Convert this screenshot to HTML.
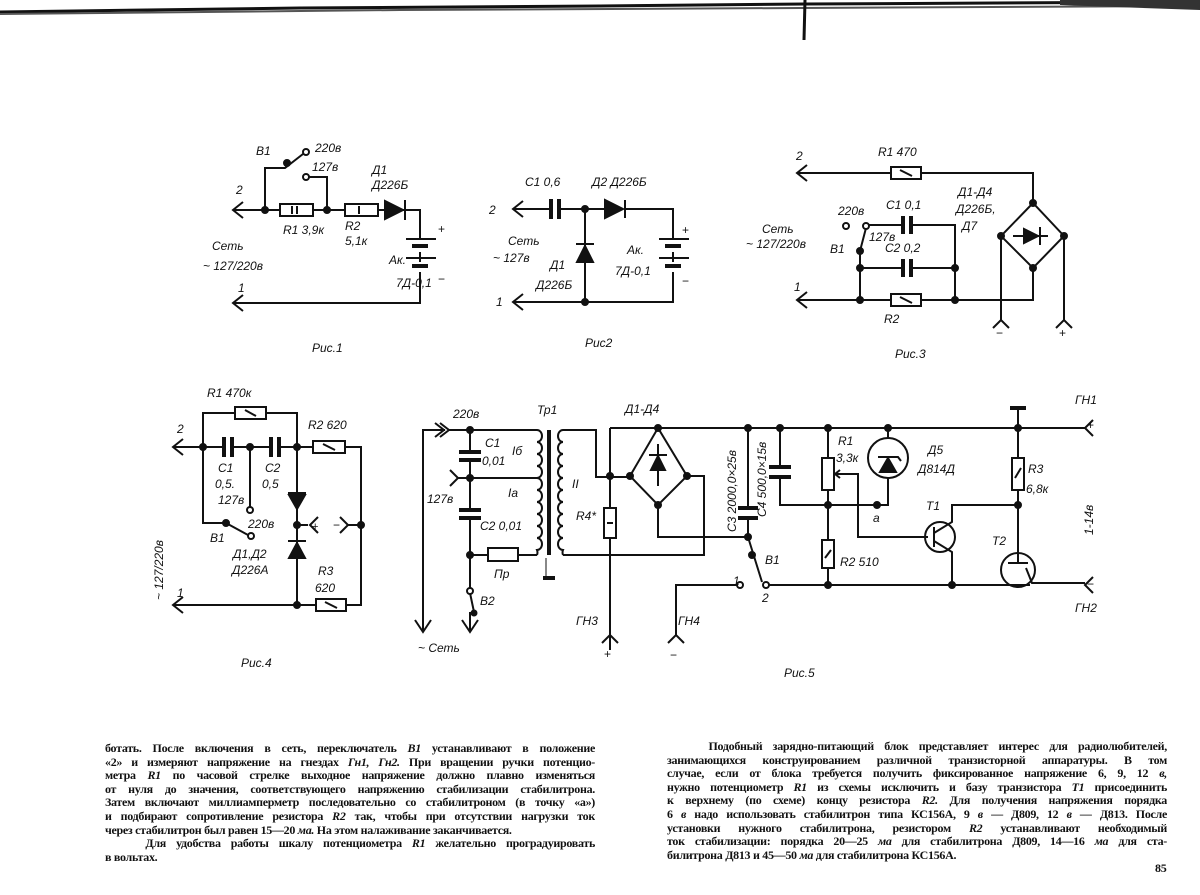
<!DOCTYPE html>
<html><head><meta charset="utf-8"><style>
body{margin:0;width:1200px;height:895px;background:#fff;overflow:hidden;position:relative}
svg{position:absolute;left:0;top:0}
.t{font-family:"Liberation Sans","DejaVu Sans",sans-serif;font-style:italic;font-size:12px;fill:#111}
.col{position:absolute;font-family:"Liberation Serif","DejaVu Serif",serif;font-size:12px;line-height:13.6px;color:#111;font-weight:bold;letter-spacing:-0.3px}
.col div{text-align:justify;text-align-last:justify;white-space:nowrap;overflow:hidden}
.col div.l{text-align-last:left}
</style></head><body>
<svg width="1200" height="895" viewBox="0 0 1200 895">
<g stroke="#111" stroke-width="2" fill="none">
<path d="M0,12 L300,8 L600,6 L805,4 L1200,2" stroke-width="3"/>
<path d="M0,14 L400,10 L800,8 L1200,6" stroke="#555" stroke-width="2"/>
<path d="M1060,0 L1200,0 L1200,10 L1060,5Z" fill="#333" stroke="none"/>
<path d="M805,0 L804,40" stroke-width="3"/>

<!-- FIG 1 -->
<path d="M233,210 H280 M313,210 H345 M378,210 H420 V238 M420,252 V262 M420,272 V303 H233"/>
<path d="M243,202 L233,210 L243,218 M243,295 L233,303 L243,311"/>
<rect x="280" y="204" width="33" height="12"/><rect x="345" y="204" width="33" height="12"/>
<path d="M292,206 V214 M297,206 V214 M359,206 V214"/>
<path d="M385,201 L385,219 L403,210Z" fill="#111"/><path d="M405,200 V220"/>
<path d="M406,239 H436 M406,258 H436" /><path d="M412,246 H428 M412,266 H428" stroke-width="4"/>
<path d="M265,210 V168 H285 L303,154 M309,177 H327 V210"/>
<circle cx="306" cy="152" r="3" fill="#fff"/><circle cx="306" cy="177" r="3" fill="#fff"/>
<g fill="#111"><circle cx="265" cy="210" r="3"/><circle cx="327" cy="210" r="3"/><circle cx="287" cy="163" r="3"/></g>

<!-- FIG 2 -->
<path d="M513,209 H551 M559,209 H605 M625,209 H673 V238 M673,252 V262 M673,272 V302 H513 M585,209 V302"/>
<path d="M523,201 L513,209 L523,217 M523,294 L513,302 L523,310"/>
<path d="M551,199 V219 M559,199 V219" stroke-width="4"/>
<path d="M605,200 L605,218 L623,209Z" fill="#111"/><path d="M625,200 V218"/>
<path d="M577,262 L593,262 L585,246Z" fill="#111"/><path d="M576,244 H594"/>
<path d="M659,239 H689 M659,258 H689"/><path d="M665,246 H681 M665,266 H681" stroke-width="4"/>
<g fill="#111"><circle cx="585" cy="209" r="3"/><circle cx="585" cy="302" r="3"/></g>

<!-- FIG 3 -->
<path d="M797,173 H891 M921,173 H1033 V203"/>
<path d="M807,165 L797,173 L807,181 M807,292 L797,300 L807,308"/>
<rect x="891" y="167" width="30" height="12"/><path d="M900,170 L912,176"/>
<path d="M1033,203 L1001,236 L1033,268 L1064,236Z"/>
<path d="M1024,229 L1024,243 L1038,236Z" fill="#111"/><path d="M1040,227 V245 M1013,236 H1048"/>
<path d="M1033,268 V300 H797 M1001,236 V320 M1064,236 V320"/>
<path d="M993,328 L1001,320 L1009,328 M1056,328 L1064,320 L1072,328"/>
<rect x="891" y="294" width="30" height="12" fill="#fff"/><path d="M900,297 L912,303"/>
<path d="M869,225 H903 M911,225 H955 V300 M860,268 H903 M911,268 H955 M860,251 V300 M866,228 L860,251"/>
<path d="M903,216 V234 M911,216 V234 M903,259 V277 M911,259 V277" stroke-width="4"/>
<circle cx="866" cy="226" r="3" fill="#fff"/><circle cx="846" cy="226" r="3" fill="#fff"/>
<g fill="#111"><circle cx="1033" cy="203" r="3"/><circle cx="1001" cy="236" r="3"/><circle cx="1064" cy="236" r="3"/><circle cx="1033" cy="268" r="3"/><circle cx="860" cy="300" r="3"/><circle cx="955" cy="300" r="3"/><circle cx="860" cy="268" r="3"/><circle cx="955" cy="268" r="3"/><circle cx="860" cy="251" r="3"/></g>

<!-- FIG 4 -->
<path d="M173,447 H224 M232,447 H271 M279,447 H313 M345,447 H361 V605 H346 M316,605 H173"/>
<path d="M183,439 L173,447 L183,455 M183,597 L173,605 L183,613"/>
<path d="M224,437 V457 M232,437 V457 M271,437 V457 M279,437 V457" stroke-width="4"/>
<path d="M203,447 V413 H235 M266,413 H297 V605"/>
<rect x="235" y="407" width="31" height="12"/><path d="M245,410 L256,416"/>
<rect x="313" y="441" width="32" height="12"/><path d="M323,444 L335,450"/>
<rect x="316" y="599" width="30" height="12"/><path d="M325,602 L337,608"/>
<path d="M289,495 H305 L297,509Z" fill="#111"/><path d="M288,493 H306"/>
<path d="M289,558 H305 L297,543Z" fill="#111"/><path d="M288,541 H306"/>
<path d="M297,525 H308 M318,517 L310,525 L318,533 M361,525 H348 M340,517 L348,525 L340,533"/>
<path d="M203,447 V523 H226 L248,535 M250,447 V507"/>
<circle cx="250" cy="510" r="3" fill="#fff"/><circle cx="251" cy="536" r="3" fill="#fff"/>
<g fill="#111"><circle cx="203" cy="447" r="3"/><circle cx="250" cy="447" r="3"/><circle cx="297" cy="447" r="3"/><circle cx="297" cy="525" r="3"/><circle cx="361" cy="525" r="3"/><circle cx="297" cy="605" r="3"/><circle cx="226" cy="523" r="3"/></g>

<!-- FIG 5 -->
<path d="M423,630 V430 H445 M435,423 L444,430 L435,437 M440,423 L449,430 L440,437"/>
<path d="M415,620 L423,632 L431,620 M462,620 L470,632 L478,620"/>
<path d="M449,430 H537 M470,430 V450 M470,462 V508 M470,520 V590 M450,470 L458,478 L450,486 M458,478 H537 M470,555 H488 M518,555 H537"/>
<path d="M459,452 H481 M459,460 H481 M459,510 H481 M459,518 H481" stroke-width="4"/>
<rect x="488" y="548" width="30" height="13"/>
<path d="M470,593 L474,612 M470,612 V630"/>
<circle cx="470" cy="591" r="3" fill="#fff"/><circle cx="474" cy="613" r="2.5" fill="#111"/>
<path d="M537,430 a5,6 0 0 1 0,12 a5,6 0 0 1 0,12 a5,6 0 0 1 0,12 a5,6 0 0 1 0,12 a5,6 0 0 1 0,12 a5,6 0 0 1 0,12 a5,6 0 0 1 0,12 a5,6 0 0 1 0,12 a5,6 0 0 1 0,12 a5,6 0 0 1 0,12 a5,6 0 0 1 0,5"/>
<path d="M549,430 V555" stroke-width="4"/><path d="M543,578 H555" stroke-width="4"/><path d="M546,558 V578" stroke-width="1"/>
<path d="M563,430 a5,6 0 0 0 0,12 a5,6 0 0 0 0,12 a5,6 0 0 0 0,12 a5,6 0 0 0 0,12 a5,6 0 0 0 0,12 a5,6 0 0 0 0,12 a5,6 0 0 0 0,12 a5,6 0 0 0 0,12 a5,6 0 0 0 0,12 a5,6 0 0 0 0,12 a5,6 0 0 0 0,5"/>
<path d="M563,430 H596 V477 H630 M563,555 H704 V476 H687"/>
<path d="M610,428 H1085 M610,428 V508 M610,538 V650"/>
<rect x="604" y="508" width="12" height="30"/><path d="M607,523 H613"/>
<path d="M602,643 L610,635 L618,643 M668,643 L676,635 L684,643"/>
<path d="M658,428 L630,476 L658,505 L687,476Z"/>
<path d="M651,470 H665 L658,456Z" fill="#111"/><path d="M649,455 H667 M658,444 V486"/>
<path d="M658,505 V537 H748 M748,428 V508 M748,518 V537 L762,582"/>
<path d="M738,508 H758 M738,518 H758" stroke-width="4"/>
<path d="M737,585 H676 V635"/>
<circle cx="740" cy="585" r="3" fill="#fff"/><circle cx="766" cy="585" r="3" fill="#fff"/>
<path d="M769,585 H1030"/>
<path d="M780,428 V467 M780,477 V505 H888 V478"/>
<path d="M769,467 H791 M769,477 H791" stroke-width="4"/>
<circle cx="888" cy="458" r="20"/><path d="M888,428 V438"/>
<path d="M880,472 H896 L888,458Z" fill="#111"/><path d="M878,457 H898 L901,461"/>
<path d="M828,428 V458 M828,490 V540 M828,568 V585"/>
<rect x="822" y="458" width="12" height="32"/><rect x="822" y="540" width="12" height="28"/><path d="M825,558 L831,550"/>
<path d="M836,474 H858 V537 H928 M840,470 L835,474 L840,478"/>
<circle cx="940" cy="537" r="15"/><path d="M934,527 V547 M934,533 L952,522 V505 H1018 M934,541 L952,552 V585"/>
<path d="M1018,408 V458 M1018,490 V553"/><path d="M1010,408 H1026" stroke-width="4"/>
<rect x="1012" y="458" width="12" height="32"/><path d="M1015,478 L1021,468"/>
<circle cx="1018" cy="570" r="17"/><path d="M1008,563 H1028 M1018,563 V553 M1026,568 L1032,583 H1085"/>
<path d="M1093,420 L1085,428 L1093,436 M1093,577 L1085,585 L1093,593"/>
<g fill="#111"><circle cx="658" cy="428" r="3"/><circle cx="630" cy="476" r="3"/><circle cx="687" cy="476" r="3"/><circle cx="658" cy="505" r="3"/><circle cx="610" cy="476" r="3"/><circle cx="748" cy="428" r="3"/><circle cx="748" cy="537" r="3"/><circle cx="780" cy="428" r="3"/><circle cx="828" cy="428" r="3"/><circle cx="888" cy="428" r="3"/><circle cx="828" cy="505" r="3"/><circle cx="877" cy="505" r="3"/><circle cx="1018" cy="428" r="3"/><circle cx="1018" cy="505" r="3"/><circle cx="828" cy="585" r="3"/><circle cx="952" cy="585" r="3"/><circle cx="470" cy="430" r="3"/><circle cx="470" cy="478" r="3"/><circle cx="470" cy="555" r="3"/><circle cx="752" cy="555" r="3"/></g>
</g>
<g class="t">
<text x="256" y="155">В1</text><text x="315" y="152">220в</text><text x="312" y="171">127в</text>
<text x="236" y="194">2</text><text x="372" y="174">Д1</text><text x="372" y="189">Д226Б</text>
<text x="283" y="234">R1 3,9к</text><text x="345" y="230">R2</text><text x="345" y="245">5,1к</text>
<text x="212" y="250">Сеть</text><text x="203" y="270">~ 127/220в</text>
<text x="438" y="233" font-style="normal">+</text><text x="438" y="283" font-style="normal">−</text>
<text x="389" y="264">Ак.</text><text x="396" y="287">7Д-0,1</text><text x="238" y="292">1</text>
<text x="312" y="352">Рис.1</text>
<text x="525" y="186">С1 0,6</text><text x="592" y="186">Д2 Д226Б</text><text x="489" y="214">2</text>
<text x="508" y="245">Сеть</text><text x="493" y="262">~ 127в</text><text x="550" y="269">Д1</text><text x="536" y="289">Д226Б</text>
<text x="627" y="254">Ак.</text><text x="615" y="275">7Д-0,1</text><text x="682" y="234" font-style="normal">+</text><text x="682" y="285" font-style="normal">−</text>
<text x="496" y="306">1</text><text x="585" y="347">Рис2</text>
<text x="796" y="160">2</text><text x="878" y="156">R1 470</text><text x="958" y="196">Д1-Д4</text><text x="956" y="213">Д226Б,</text><text x="962" y="230">Д7</text>
<text x="838" y="215">220в</text><text x="886" y="209">С1 0,1</text><text x="762" y="233">Сеть</text><text x="746" y="248">~ 127/220в</text>
<text x="830" y="253">В1</text><text x="869" y="241">127в</text><text x="885" y="252">С2 0,2</text><text x="794" y="291">1</text><text x="884" y="323">R2</text>
<text x="996" y="337" font-style="normal">−</text><text x="1059" y="337" font-style="normal">+</text><text x="895" y="358">Рис.3</text>
<text x="207" y="397">R1 470к</text><text x="177" y="433">2</text><text x="308" y="429">R2 620</text>
<text x="218" y="472">С1</text><text x="215" y="488">0,5.</text><text x="265" y="472">С2</text><text x="262" y="488">0,5</text>
<text x="218" y="504">127в</text><text x="248" y="528">220в</text><text x="210" y="542">В1</text>
<text x="233" y="558">Д1,Д2</text><text x="232" y="574">Д226А</text><text x="318" y="575">R3</text><text x="315" y="592">620</text>
<text x="177" y="597">1</text><text x="312" y="530" font-style="normal" font-size="11">+</text><text x="333" y="529" font-style="normal">−</text>
<text transform="translate(163,600) rotate(-90)">~ 127/220в</text><text x="241" y="667">Рис.4</text>
<text x="453" y="418">220в</text><text x="537" y="414">Тр1</text><text x="485" y="447">С1</text><text x="482" y="465">0,01</text>
<text x="512" y="455">Iб</text><text x="427" y="503">127в</text><text x="508" y="497">Iа</text><text x="480" y="530">С2 0,01</text>
<text x="572" y="488">II</text><text x="576" y="520">R4*</text><text x="494" y="578">Пр</text><text x="480" y="605">В2</text>
<text x="418" y="652">~ Сеть</text><text x="576" y="625">ГН3</text><text x="604" y="658" font-style="normal">+</text>
<text x="678" y="625">ГН4</text><text x="670" y="659" font-style="normal">−</text>
<text x="625" y="413">Д1-Д4</text><text x="733" y="585" font-size="12">1</text><text x="762" y="602">2</text><text x="765" y="564">В1</text>
<text transform="translate(736,532) rotate(-90)">С3 2000,0×25в</text><text transform="translate(766,517) rotate(-90)">С4 500,0×15в</text>
<text x="838" y="445">R1</text><text x="836" y="462">3,3к</text><text x="928" y="454">Д5</text><text x="918" y="473">Д814Д</text>
<text x="873" y="522">а</text><text x="840" y="566">R2 510</text><text x="926" y="510">Т1</text><text x="992" y="545">Т2</text>
<text x="1028" y="473">R3</text><text x="1026" y="493">6,8к</text><text transform="translate(1093,535) rotate(-90)">1-14в</text>
<text x="1075" y="404">ГН1</text><text x="1087" y="429" font-style="normal">+</text><text x="1087" y="588" font-style="normal">−</text><text x="1075" y="612">ГН2</text>
<text x="784" y="677">Рис.5</text>
</g>
</svg>
<div class="col" style="left:105px;top:742px;width:490px">
<div>ботать. После включения в сеть, переключатель <i>В1</i> устанавливают в положение</div>
<div>«2» и измеряют напряжение на гнездах <i>Гн1, Гн2.</i> При вращении ручки потенцио-</div>
<div>метра <i>R1</i> по часовой стрелке выходное напряжение должно плавно изменяться</div>
<div>от нуля до значения, соответствующего напряжению стабилизации стабилитрона.</div>
<div>Затем включают миллиамперметр последовательно со стабилитроном (в точку «а»)</div>
<div>и подбирают сопротивление резистора <i>R2</i> так, чтобы при отсутствии нагрузки ток</div>
<div class="l">через стабилитрон был равен 15—20 <i>ма.</i> На этом налаживание заканчивается.</div>
<div>&nbsp;&nbsp;&nbsp;&nbsp;Для удобства работы шкалу потенциометра <i>R1</i> желательно проградуировать</div>
<div class="l">в вольтах.</div>
</div>
<div class="col" style="left:667px;top:740px;width:500px">
<div>&nbsp;&nbsp;&nbsp;&nbsp;Подобный зарядно-питающий блок представляет интерес для радиолюбителей,</div>
<div>занимающихся конструированием различной транзисторной аппаратуры. В том</div>
<div>случае, если от блока требуется получить фиксированное напряжение 6, 9, 12 <i>в,</i></div>
<div>нужно потенциометр <i>R1</i> из схемы исключить и базу транзистора <i>Т1</i> присоединить</div>
<div>к верхнему (по схеме) концу резистора <i>R2.</i> Для получения напряжения порядка</div>
<div>6 <i>в</i> надо использовать стабилитрон типа КС156А, 9 <i>в</i> — Д809, 12 <i>в</i> — Д813. После</div>
<div>установки нужного стабилитрона, резистором <i>R2</i> устанавливают необходимый</div>
<div>ток стабилизации: порядка 20—25 <i>ма</i> для стабилитрона Д809, 14—16 <i>ма</i> для ста-</div>
<div class="l">билитрона Д813 и 45—50 <i>ма</i> для стабилитрона КС156А.</div>
</div>
<div class="col" style="left:1155px;top:862px">85</div>
</body></html>
